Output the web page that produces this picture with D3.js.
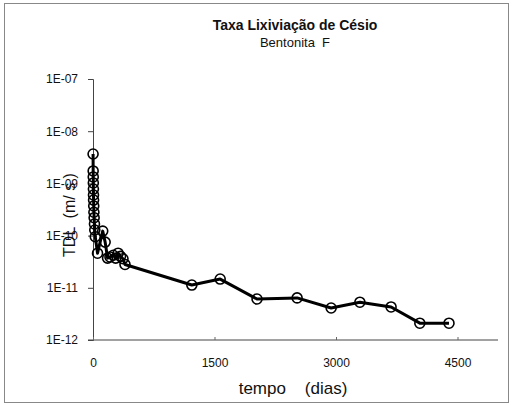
<!DOCTYPE html>
<html>
<head>
<meta charset="utf-8">
<script src="https://cdn.jsdelivr.net/npm/d3@7"></script>
<style>
  html, body { margin: 0; padding: 0; background: #fff; }
  svg { display: block; font-family: "Liberation Sans", Arial, sans-serif; }
</style>
</head>
<body>
<svg id="chart" width="513" height="406"></svg>
<script>
// Leaching rate of caesium from bentonite F over time
const days = [1, 2, 3, 4, 5, 6, 7, 9, 11, 14, 18, 22, 28, 56, 120, 150, 180, 210, 250, 280, 310, 340, 370, 395,
              1220, 1570, 2025, 2520, 2940, 3295, 3680, 4035, 4395];
const rates = [3.66e-9, 1.73e-9, 1.33e-9, 1.02e-9, 7.8e-10, 6.0e-10, 4.8e-10, 3.7e-10, 2.8e-10, 2.2e-10, 1.67e-10, 1.28e-10, 9.5e-11,
               4.6e-11, 1.22e-10, 7.5e-11, 3.7e-11, 3.9e-11, 4.2e-11, 3.7e-11, 4.6e-11, 4.0e-11, 3.6e-11, 2.8e-11,
               1.13e-11, 1.47e-11, 6.1e-12, 6.4e-12, 4.1e-12, 5.3e-12, 4.3e-12, 2.1e-12, 2.1e-12];
const xTicks = [0, 1500, 3000, 4500];
const yTicks = [1e-7, 1e-8, 1e-9, 1e-10, 1e-11, 1e-12];
const yTickLabels = ["1E-07", "1E-08", "1E-09", "1E-10", "1E-11", "1E-12"];

const svg = d3.select("#chart");

// outer frame
svg.append("rect")
  .attr("x", 4.5).attr("y", 3.5).attr("width", 504).attr("height", 399)
  .attr("fill", "none").attr("stroke", "#888").attr("stroke-width", 1);

const x = d3.scaleLinear().domain([0, 5000]).range([93, 498]);
const y = d3.scaleLog().domain([1e-12, 1e-7]).range([340, 79]);

// axes
const yAxis = d3.axisLeft(y).tickValues(yTicks)
  .tickFormat((d, i) => yTickLabels[i]).tickSize(5).tickPadding(10);
const gy = svg.append("g").attr("transform", "translate(93,0)").call(yAxis);
gy.select(".domain").attr("stroke", "#444");
gy.selectAll(".tick line").attr("stroke", "#444");
gy.selectAll("text").attr("font-size", 12).attr("fill", "#111")
  .attr("font-family", "Liberation Sans, Arial, sans-serif");

const xAxis = d3.axisBottom(x).tickValues(xTicks).tickSize(-3).tickPadding(18)
  .tickFormat(d3.format("d"));
const gx = svg.append("g").attr("transform", "translate(0,340)").call(xAxis);
gx.select(".domain").attr("stroke", "#444").attr("d", "M88,0H498");
gx.selectAll(".tick line").attr("stroke", "#666");
gx.selectAll("text").attr("font-size", 12).attr("fill", "#111")
  .attr("font-family", "Liberation Sans, Arial, sans-serif");

// titles
svg.append("text").attr("x", 295).attr("y", 30).attr("text-anchor", "middle")
  .attr("font-size", 14).attr("font-weight", "bold").attr("fill", "#111")
  .text("Taxa Lixiviação de Césio");
svg.append("text").attr("x", 295).attr("y", 47).attr("text-anchor", "middle")
  .attr("font-size", 13).attr("fill", "#111").attr("xml:space", "preserve")
  .text("Bentonita  F");
svg.append("text").attr("x", 293).attr("y", 394).attr("text-anchor", "middle")
  .attr("font-size", 17).attr("fill", "#111").attr("xml:space", "preserve")
  .text("tempo    (dias)");
svg.append("text").attr("transform", "translate(75,215) rotate(-90)")
  .attr("text-anchor", "middle").attr("font-size", 16).attr("fill", "#111")
  .attr("xml:space", "preserve")
  .text("TDL  (m/ s )");

// series
const pts = days.map((d, i) => [d, rates[i]]);
svg.append("path").datum(pts)
  .attr("fill", "none").attr("stroke", "#000").attr("stroke-width", 3)
  .attr("stroke-linejoin", "round")
  .attr("d", d3.line().x(d => x(d[0])).y(d => y(d[1])));
svg.append("g").selectAll("circle").data(pts).join("circle")
  .attr("cx", d => x(d[0])).attr("cy", d => y(d[1])).attr("r", 5)
  .attr("fill", "none").attr("stroke", "#000").attr("stroke-width", 1.6);
</script>
</body>
</html>
